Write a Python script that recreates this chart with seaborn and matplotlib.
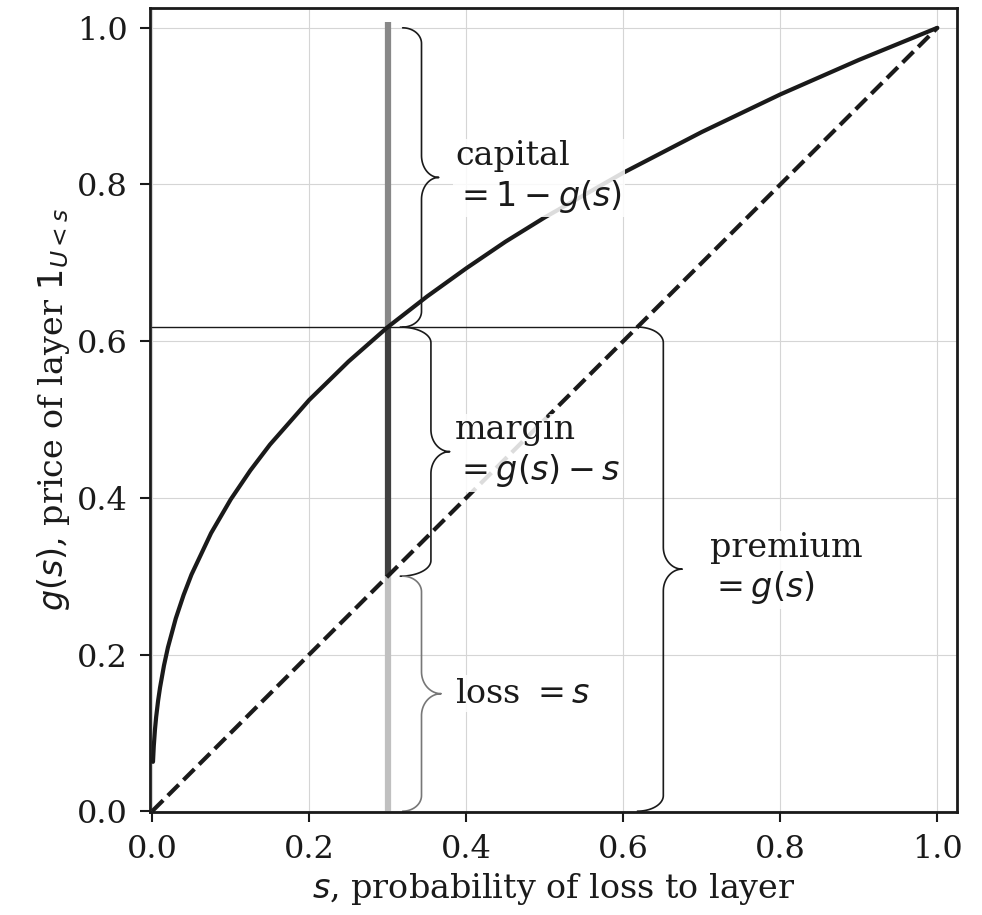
import numpy as np
import matplotlib
matplotlib.use("Agg")
import matplotlib.pyplot as plt
import seaborn as sns

# distortion curve g(s)
s_pts = [0.001, 0.002, 0.0035, 0.005, 0.0075, 0.01, 0.015, 0.02, 0.03, 0.04,
         0.05, 0.075, 0.1, 0.125, 0.15, 0.2, 0.25, 0.3, 0.35, 0.4, 0.45,
         0.5, 0.6, 0.7, 0.8, 0.9, 1.0]
g_pts = [0.063, 0.083, 0.104, 0.120, 0.141, 0.158, 0.186, 0.209, 0.246, 0.276,
         0.302, 0.355, 0.398, 0.435, 0.468, 0.525, 0.574, 0.618, 0.657, 0.693, 0.727,
         0.758, 0.815, 0.867, 0.915, 0.959, 1.0]
diag = [0.0, 1.0]

s_layer = 0.3
g_layer = 0.618

ticks = [0.0, 0.2, 0.4, 0.6, 0.8, 1.0]

sns.set_theme(style="whitegrid")
plt.rcParams["font.family"] = ["DejaVu Serif"]
plt.rcParams["mathtext.fontset"] = "dejavusans"
plt.rcParams["text.color"] = "k"
plt.rcParams["axes.labelcolor"] = "k"

fig, ax = plt.subplots(figsize=(9.82, 9.15), dpi=100)
fig.subplots_adjust(left=0.153, right=0.9745, top=0.991, bottom=0.1126)

# vertical layer bar split into loss / margin / capital
ax.plot([s_layer, s_layer], [0, s_layer], color="#c0c0c0", lw=4.5, solid_capstyle="butt")
ax.plot([s_layer, s_layer], [s_layer, g_layer], color="#404040", lw=4.5, solid_capstyle="butt")
ax.plot([s_layer, s_layer], [g_layer, 1.007], color="#888888", lw=4.5, solid_capstyle="butt")
ax.plot([0, g_layer], [g_layer, g_layer], color="k", lw=1)

sns.lineplot(x=s_pts, y=g_pts, color="k", lw=3, ax=ax)
sns.lineplot(x=diag, y=diag, color="k", lw=3, ls="--", ax=ax)


def brace(ax, x, y0, y1, dx_end, dx_tip, dy_end=0.02, dy_tip=0.028, **kw):
    # right-pointing curly brace from y0 to y1, ends at x
    ym = (y0 + y1) / 2
    xs = x + dx_end
    t = np.linspace(0, np.pi / 2, 30)
    bx = x + dx_end * np.sin(t)
    by = y0 + dy_end - dy_end * np.cos(t)
    tx = xs + dx_tip - dx_tip * np.cos(t)
    ty = ym - dy_tip + dy_tip * np.sin(t)
    lx = np.concatenate([bx, tx])
    ly = np.concatenate([by, ty])
    ax.plot(np.concatenate([lx, lx[::-1]]),
            np.concatenate([ly, (2 * ym - ly)[::-1]]), **kw)


brace(ax, 0.319, g_layer, 1.0, 0.024, 0.022, color="k", lw=1.2)
brace(ax, 0.316, s_layer, g_layer, 0.039, 0.024, color="k", lw=1.2)
brace(ax, 0.319, 0.0, s_layer, 0.024, 0.025, color="#777777", lw=1.2)
brace(ax, 0.618, 0.0, g_layer, 0.033, 0.024, color="k", lw=1.2)

box = dict(facecolor="white", alpha=0.85, edgecolor="none", pad=2)
fs = 24
ax.text(0.386, (g_layer + 1) / 2, "capital\n$=1-g(s)$", fontsize=fs, va="center", ha="left", bbox=box)
ax.text(0.386, (s_layer + g_layer) / 2, "margin\n$=g(s)-s$", fontsize=fs, va="center", ha="left", bbox=box)
ax.text(0.386, s_layer / 2, "loss $=s$", fontsize=fs, va="center", ha="left", bbox=box)
ax.text(0.711, g_layer / 2, "premium\n$=g(s)$", fontsize=fs, va="center", ha="left", bbox=box)

ax.set_xlim(-0.0025, 1.025)
ax.set_ylim(-0.001, 1.025)
ax.set_xticks(ticks)
ax.set_yticks(ticks)
ax.set_xticklabels([f"{v:.1f}" for v in ticks])
ax.set_yticklabels([f"{v:.1f}" for v in ticks])
ax.tick_params(axis="both", direction="out", length=7, width=1.5, color="k",
               labelsize=23, labelcolor="k", bottom=True, left=True, pad=9)
ax.grid(True, color="#d5d5d5", lw=0.8)
for sp in ax.spines.values():
    sp.set_color("k")
    sp.set_linewidth(2)
ax.set_xlabel("$s$, probability of loss to layer", fontsize=24, color="k", labelpad=4)
ax.set_ylabel("$g(s)$, price of layer $1_{U<s}$", fontsize=24, color="k", labelpad=4)

fig.savefig("out.png", dpi=100)
